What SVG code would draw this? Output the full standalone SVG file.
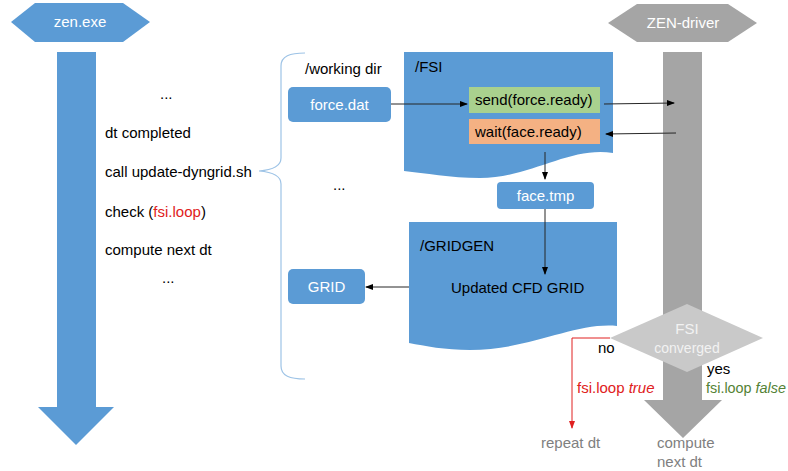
<svg xmlns="http://www.w3.org/2000/svg" width="788" height="471" viewBox="0 0 788 471">
<defs>
<style>
text{font-family:"Liberation Sans",Arial,sans-serif;font-size:15px;fill:#000}
.w{fill:#fff}
.c{text-anchor:middle}
.blue{fill:#5b9bd5}
.gray{fill:#a5a5a5}
.conn{stroke:#262626;stroke-width:1;fill:none}
.g{fill:#808080}
</style>
<marker id="ah" markerWidth="8" markerHeight="8" refX="7" refY="4" orient="auto" markerUnits="userSpaceOnUse">
<path d="M0,1 L8,4 L0,7 Z" fill="#000"/>
</marker>
<marker id="ahr" markerWidth="8" markerHeight="8" refX="7" refY="4" orient="auto" markerUnits="userSpaceOnUse">
<path d="M0,1 L8,4 L0,7 Z" fill="#e02020"/>
</marker>
</defs>
<rect width="788" height="471" fill="#fff"/>

<g id="zen-exe">
<polygon class="blue" points="11,22 35,3 123,3 150,22 123,42 35,42"/>
<text class="w c" x="80" y="27">zen.exe</text>
</g>
<g id="zen-exe-lifeline">
<polygon class="blue" points="57,52 96,52 96,407 114,407 76,445 38,407 57,407"/>
</g>

<g id="zen-driver">
<polygon class="gray" points="608,23 637,4 728,4 757,23 728,42 637,42"/>
<text class="w c" x="683" y="28">ZEN-driver</text>
</g>
<g id="zen-driver-lifeline">
<polygon class="gray" points="663,52 702,52 702,400 722,400 683,438 644,400 663,400"/>
</g>

<g id="steps">
<text x="160" y="99">...</text>
<text x="105" y="138">dt completed</text>
<text x="105" y="177">call update-dyngrid.sh</text>
<text x="105" y="217">check (<tspan fill="#e02020">fsi.loop</tspan>)</text>
<text x="105" y="255">compute next dt</text>
<text x="162" y="283">...</text>
</g>

<g id="brace">
<path d="M305,53 C290,53 281,56 281,66 V158 C281,166 272,170 259,171 C272,172 281,176 281,184 V366 C281,376 290,379 305,379" fill="none" stroke="#9dc3e6" stroke-width="1.2"/>
</g>

<g id="working-dir">
<text x="305" y="74">/working dir</text>
<text x="333" y="190">...</text>
</g>

<g id="fsi">
<path class="blue" d="M404,52 H613 V153 C570,146 530,178 480,178 C450,178 425,173 404,171 Z"/>
<text x="415" y="72">/FSI</text>
</g>

<g id="force-dat">
<rect class="blue" x="288" y="87" width="103" height="35" rx="5"/>
<text class="w c" x="339.5" y="110">force.dat</text>
</g>

<g id="send">
<rect x="469" y="87" width="131" height="26" fill="#a9d18e"/>
<text x="475" y="105">send(force.ready)</text>
</g>

<g id="wait">
<rect x="469" y="119" width="131" height="25" fill="#f4b183"/>
<text x="475" y="137">wait(face.ready)</text>
</g>

<g id="face-tmp">
<rect class="blue" x="497" y="182" width="97" height="27" rx="4"/>
<text class="w c" x="545.5" y="201">face.tmp</text>
</g>

<g id="gridgen">
<path class="blue" d="M409,222 H617 V326 C575,322 530,350 470,350 C445,350 425,346 409,343 Z"/>
<text x="420" y="251">/GRIDGEN</text>
<text x="451" y="293">Updated CFD GRID</text>
</g>

<g id="grid">
<rect class="blue" x="288" y="269" width="77" height="35" rx="5"/>
<text class="w c" x="326.5" y="292">GRID</text>
</g>

<g id="fsi-converged">
<polygon points="610,338 687,304 763,338 687,372" fill="#c9c9c9"/>
<text class="c" x="687" y="334" style="fill:#f2f2f2">FSI</text>
<text class="c" x="687" y="353" style="fill:#f2f2f2;font-size:14px">converged</text>
</g>

<g id="connectors">
<line class="conn" x1="391" y1="104" x2="467" y2="104" marker-end="url(#ah)"/>
<line class="conn" x1="604" y1="104" x2="674" y2="103" marker-end="url(#ah)"/>
<line class="conn" x1="676" y1="133" x2="606" y2="134" marker-end="url(#ah)"/>
<line class="conn" x1="545" y1="152" x2="545" y2="179" marker-end="url(#ah)"/>
<line class="conn" x1="545" y1="209" x2="545" y2="274" marker-end="url(#ah)" stroke="#404040"/>
<line class="conn" x1="409" y1="287" x2="366" y2="287" marker-end="url(#ah)" stroke="#404040"/>
<polyline points="610,338 572,338 572,428" fill="none" stroke="#e02020" stroke-width="1" marker-end="url(#ahr)"/>
</g>

<g id="labels">
<text x="598" y="353">no</text>
<text x="707" y="374">yes</text>
<text x="577" y="393" style="fill:#e02020">fsi.loop <tspan font-style="italic">true</tspan></text>
<text x="706" y="393" style="fill:#548235;font-size:14px" textLength="80" lengthAdjust="spacingAndGlyphs">fsi.loop <tspan font-style="italic">false</tspan></text>
<text class="g" x="541" y="448">repeat dt</text>
<text class="g" x="657" y="448">compute</text>
<text class="g" x="657" y="467">next dt</text>
</g>
</svg>
